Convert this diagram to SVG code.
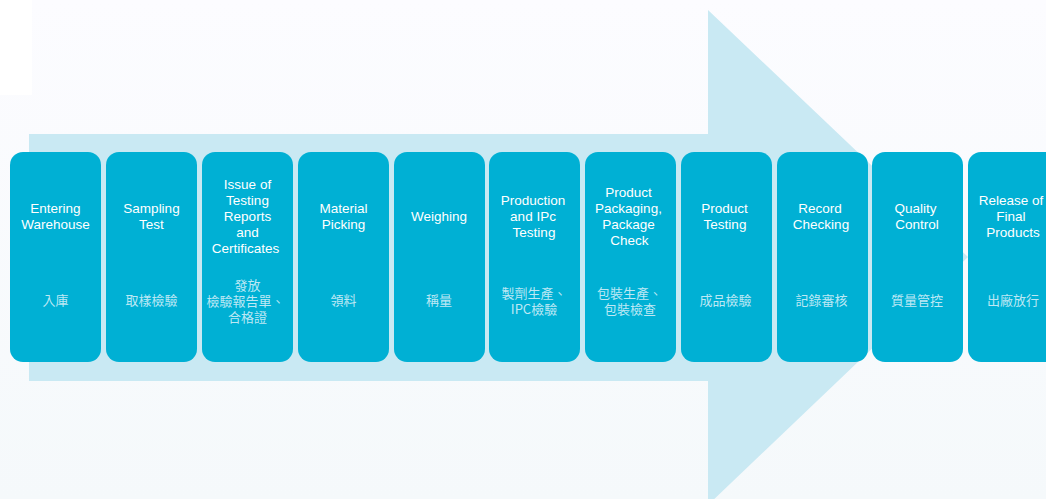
<svg xmlns="http://www.w3.org/2000/svg" width="1046" height="499" viewBox="0 0 1046 499">
<defs>
<linearGradient id="bg" x1="0" y1="0" x2="0" y2="1">
<stop offset="0" stop-color="#fcfcff"/>
<stop offset="1" stop-color="#f5f9fb"/>
</linearGradient>
<style>
.box{fill:#00b0d4;}
.en{font-family:"Liberation Sans","Noto Sans",sans-serif;font-size:13.5px;fill:#ffffff;text-anchor:middle;}
.zh{font-family:"Noto Sans CJK TC","Noto Sans CJK SC",sans-serif;font-size:13px;fill:#bde8f4;text-anchor:middle;}
</style>
</defs>
<rect width="1046" height="499" fill="url(#bg)"/>
<rect x="0" y="0" width="32" height="95" fill="#ffffff"/>
<polygon id="arrow" points="29,134 708,134 708,10 968,257 708,505 708,381 29,381" fill="#c9e9f3"/>
<g id="connectors"></g>
<g id="n1"><rect class="box" x="10" y="152" width="91" height="210" rx="13"/>
<text class="en" x="55.5" y="213">Entering</text><text class="en" x="55.5" y="229">Warehouse</text>
<text class="zh" x="55.5" y="305">入庫</text></g>
<g id="n2"><rect class="box" x="106" y="152" width="91" height="210" rx="13"/>
<text class="en" x="151.5" y="213">Sampling</text><text class="en" x="151.5" y="229">Test</text>
<text class="zh" x="151.5" y="305">取樣檢驗</text></g>
<g id="n3"><rect class="box" x="202" y="152" width="91" height="210" rx="13"/>
<text class="en" x="247.5" y="189">Issue of</text><text class="en" x="247.5" y="205">Testing</text><text class="en" x="247.5" y="221">Reports</text><text class="en" x="247.5" y="237">and</text><text class="en" x="245.5" y="253">Certificates</text>
<text class="zh" x="247.5" y="290">發放</text><text class="zh" x="245.5" y="306">檢驗報告單、</text><text class="zh" x="247.5" y="322">合格證</text></g>
<g id="n4"><rect class="box" x="298" y="152" width="91" height="210" rx="13"/>
<text class="en" x="343.5" y="213">Material</text><text class="en" x="343.5" y="229">Picking</text>
<text class="zh" x="343.5" y="305">領料</text></g>
<g id="n5"><rect class="box" x="394" y="152" width="91" height="210" rx="13"/>
<text class="en" x="439" y="221">Weighing</text>
<text class="zh" x="439" y="305">稱量</text></g>
<g id="n6"><rect class="box" x="489" y="152" width="91" height="210" rx="13"/>
<text class="en" x="533" y="205">Production</text><text class="en" x="533" y="221">and IPc</text><text class="en" x="534" y="237">Testing</text>
<text class="zh" x="534" y="298">製劑生產、</text><text class="zh" x="534" y="314">IPC檢驗</text></g>
<g id="n7"><rect class="box" x="585" y="152" width="91" height="210" rx="13"/>
<text class="en" x="628.5" y="197">Product</text><text class="en" x="628.5" y="213">Packaging,</text><text class="en" x="628.5" y="229">Package</text><text class="en" x="629.5" y="245">Check</text>
<text class="zh" x="629.5" y="298">包裝生產、</text><text class="zh" x="630" y="314">包裝檢查</text></g>
<g id="n8"><rect class="box" x="681" y="152" width="91" height="210" rx="13"/>
<text class="en" x="724.5" y="213">Product</text><text class="en" x="725" y="229">Testing</text>
<text class="zh" x="725.5" y="305">成品檢驗</text></g>
<g id="n9"><rect class="box" x="777" y="152" width="91" height="210" rx="13"/>
<text class="en" x="820" y="213">Record</text><text class="en" x="821" y="229">Checking</text>
<text class="zh" x="821.5" y="305">記錄審核</text></g>
<g id="n10"><rect class="box" x="872" y="152" width="91" height="210" rx="13"/>
<text class="en" x="915.5" y="213">Quality</text><text class="en" x="917" y="229">Control</text>
<text class="zh" x="917" y="305">質量管控</text></g>
<g id="n11"><rect class="box" x="968" y="152" width="91" height="210" rx="13"/>
<text class="en" x="1011" y="205">Release of</text><text class="en" x="1011" y="221">Final</text><text class="en" x="1013" y="237">Products</text>
<text class="zh" x="1013" y="305">出廠放行</text></g>
</svg>
